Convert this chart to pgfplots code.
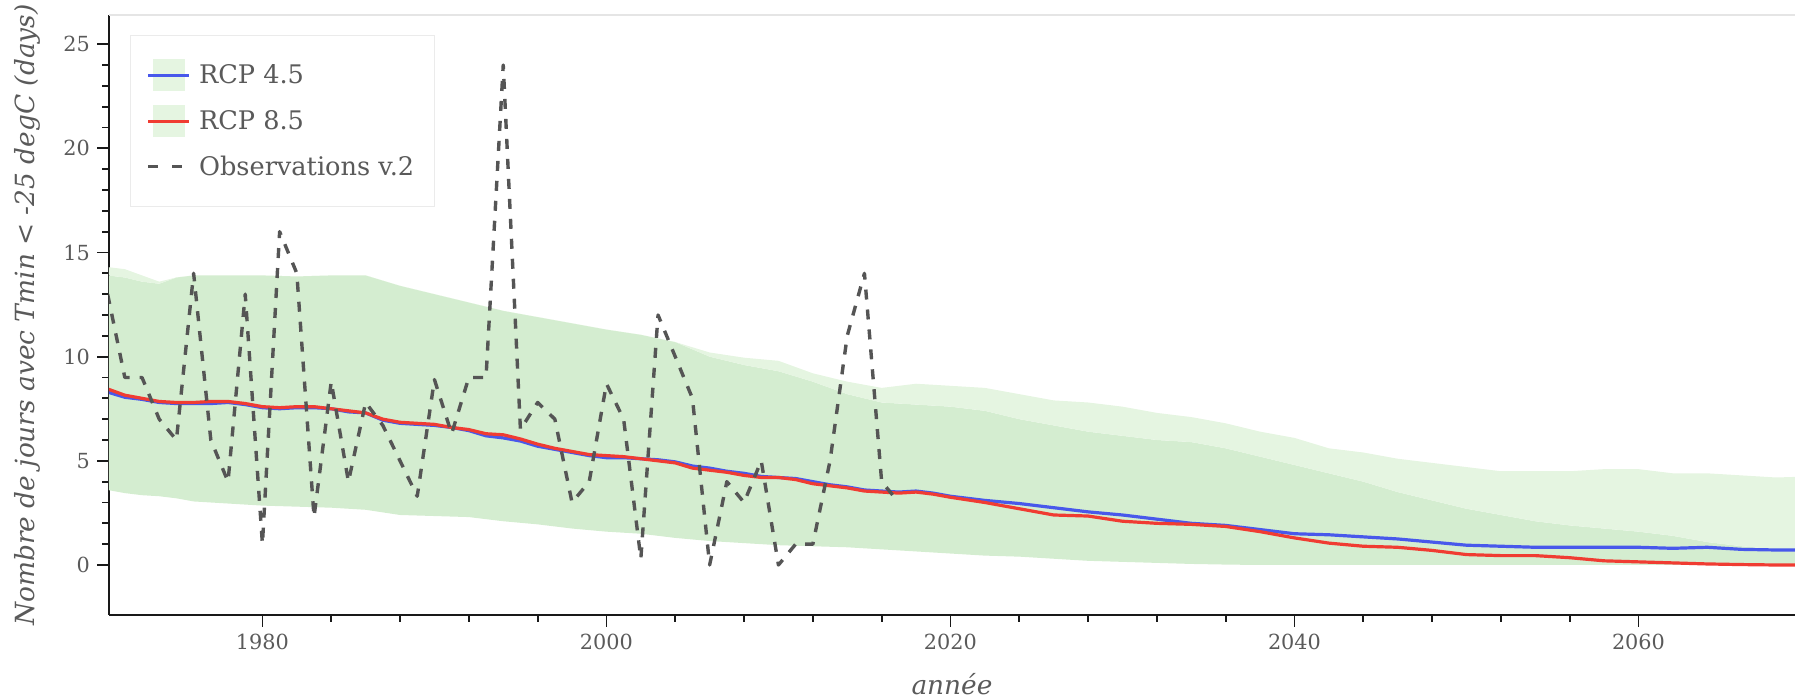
\documentclass[border=0pt]{standalone}
\usepackage{pgfplots}
\pgfplotsset{compat=1.18}
\usepackage{pgfplotstable}
\usepackage{fontspec}
\setmainfont{DejaVu Serif}
\definecolor{bandA}{RGB}{229,245,225}
\definecolor{bandB}{RGB}{212,237,208}
\definecolor{rcpblue}{RGB}{72,88,235}
\definecolor{rcpred}{RGB}{240,60,50}
\definecolor{obsgray}{RGB}{85,85,85}
\definecolor{txtgray}{RGB}{90,90,90}

\pgfplotstableread{
year u45 u85 lo
1971 14.3 13.9 3.6
1972 14.2 13.8 3.45
1973 13.9 13.6 3.35
1974 13.6 13.5 3.3
1975 13.8 13.8 3.2
1976 13.9 13.9 3.05
1978 13.9 13.9 2.95
1980 13.9 13.9 2.85
1982 13.85 13.85 2.8
1984 13.9 13.9 2.75
1986 13.9 13.9 2.65
1988 13.4 13.4 2.4
1990 13.0 13.0 2.35
1992 12.6 12.6 2.3
1994 12.2 12.2 2.1
1996 11.9 11.9 1.95
1998 11.6 11.6 1.75
2000 11.3 11.3 1.6
2002 11.05 11.05 1.5
2004 10.7 10.7 1.3
2006 10.2 10.0 1.15
2008 9.95 9.6 1.05
2010 9.8 9.3 0.95
2012 9.2 8.8 0.9
2014 8.8 8.2 0.85
2016 8.5 7.8 0.75
2018 8.7 7.7 0.65
2020 8.6 7.6 0.55
2022 8.5 7.4 0.45
2024 8.2 7.0 0.4
2026 7.9 6.7 0.3
2028 7.8 6.4 0.2
2030 7.6 6.2 0.15
2032 7.3 6.0 0.1
2034 7.1 5.9 0.05
2036 6.8 5.6 0.02
2038 6.4 5.2 0
2040 6.1 4.8 0
2042 5.6 4.4 0
2044 5.4 4.0 0
2046 5.1 3.5 0
2048 4.9 3.1 0
2050 4.7 2.7 0
2052 4.5 2.4 0
2054 4.5 2.1 0
2056 4.5 1.9 0
2058 4.6 1.75 0
2060 4.6 1.6 0
2062 4.4 1.4 0
2064 4.4 1.1 0
2066 4.3 0.9 0
2068 4.2 0.75 0
2070 4.25 0.65 0
}\bands

\pgfplotstableread{
year b45 r85
1971 8.3 8.45
1972 8.05 8.15
1973 7.95 8.0
1974 7.8 7.85
1975 7.75 7.8
1976 7.75 7.8
1977 7.75 7.85
1978 7.8 7.85
1979 7.7 7.75
1980 7.55 7.6
1981 7.5 7.55
1982 7.55 7.6
1983 7.55 7.6
1984 7.5 7.5
1985 7.35 7.4
1986 7.3 7.3
1987 6.95 7.0
1988 6.8 6.85
1989 6.75 6.8
1990 6.7 6.75
1991 6.6 6.6
1992 6.45 6.5
1993 6.2 6.3
1994 6.1 6.25
1995 5.95 6.05
1996 5.7 5.8
1997 5.55 5.6
1998 5.4 5.45
1999 5.25 5.3
2000 5.15 5.25
2001 5.15 5.2
2002 5.1 5.1
2003 5.05 5.0
2004 4.95 4.9
2005 4.75 4.65
2006 4.65 4.55
2007 4.5 4.45
2008 4.4 4.3
2009 4.25 4.2
2010 4.2 4.2
2011 4.15 4.1
2012 4.0 3.9
2013 3.85 3.8
2014 3.75 3.7
2015 3.6 3.55
2016 3.55 3.5
2017 3.5 3.45
2018 3.55 3.5
2019 3.45 3.4
2020 3.3 3.25
2022 3.1 3.0
2024 2.95 2.7
2026 2.75 2.4
2028 2.55 2.35
2030 2.4 2.1
2032 2.2 2.0
2034 2.0 1.95
2036 1.9 1.85
2038 1.7 1.6
2040 1.5 1.3
2042 1.45 1.05
2044 1.35 0.9
2046 1.25 0.85
2048 1.1 0.7
2050 0.95 0.5
2052 0.9 0.45
2054 0.85 0.45
2056 0.85 0.35
2058 0.85 0.2
2060 0.85 0.15
2062 0.8 0.1
2064 0.85 0.05
2066 0.75 0.02
2068 0.72 0.0
2070 0.72 0.0
}\means

\pgfplotstableread{
year obs
1971 13
1972 9
1973 9
1974 7
1975 6
1976 14
1977 6
1978 4
1979 13
1980 1
1981 16
1982 14
1983 2.3
1984 8.8
1985 4
1986 7.8
1987 6.7
1988 5
1989 3.3
1990 8.9
1991 6.3
1992 9
1993 9
1994 24
1995 6.5
1996 7.8
1997 7
1998 3
1999 4
2000 8.7
2001 7
2002 0.3
2003 12
2004 10
2005 8
2006 0
2007 4
2008 3
2009 5
2010 0
2011 1
2012 1
2013 5
2014 11
2015 14
2016 4
2017 3
}\obs

\begin{document}
\begin{tikzpicture}
\path[use as bounding box] (-54.5pt,-42pt) rectangle (843pt,307.5pt);
\begin{axis}[
  at={(0,0)}, anchor=south west,
  scale only axis, width=843pt, height=300pt,
  xmin=1971.08, xmax=2069.1, ymin=-2.4, ymax=26.4,
  axis x line*=bottom, axis y line*=left,
  axis line style={black!90, line width=1.1pt, -},
  xtick={1980,2000,2020,2040,2060}, ytick={0,5,...,25},
  minor x tick num=4, minor y tick num=4,
  tick align=outside,
  major tick length=6pt, minor tick length=3.5pt,
  tick style={black!90, line width=0.9pt},
  every tick label/.append style={font=\fontsize{10.4}{12}\selectfont, text=txtgray},
  /pgf/number format/assume math mode=true,
  /pgf/number format/1000 sep={},
  xlabel={\itshape année},
  ylabel={\itshape Nombre de jours avec Tmin < -25 degC (days)},
  label style={font=\fontsize{13.2}{15}\selectfont, text=txtgray},
  xlabel style={at={(axis description cs:0.5,0)}, anchor=base, yshift=-40pt},
  ylabel style={at={(axis description cs:-0.0486,0.5)}, anchor=center},
  legend style={at={(axis description cs:0,1)}, anchor=north west, xshift=10.5pt, yshift=-10pt,
    draw=black!8, fill=white, font=\fontsize{12.8}{15}\selectfont, text=txtgray,
    row sep=7.2pt, inner xsep=8pt, inner ysep=12pt},
  legend cell align=left,
]
\addplot[draw=none, stack plots=y, forget plot] table[x=year, y=lo] {\bands};
\addplot[draw=none, fill=bandB, stack plots=y, forget plot] table[x=year, y expr=\thisrow{u85}-\thisrow{lo}] {\bands} \closedcycle;
\addplot[draw=none, fill=bandA, stack plots=y, forget plot] table[x=year, y expr=\thisrow{u45}-\thisrow{u85}] {\bands} \closedcycle;

\addplot[rcpblue, line width=1.6pt, line join=round, forget plot] table[x=year, y=b45] {\means};
\addplot[rcpred, line width=1.6pt, line join=round, forget plot] table[x=year, y=r85] {\means};
\addplot[obsgray, line width=1.7pt, line join=round, dash pattern=on 5pt off 5pt, forget plot] table[x=year, y=obs] {\obs};

\draw[black!10, line width=1pt] (rel axis cs:0,1) -- (rel axis cs:1,1);

\addlegendimage{legend image code/.code={
  \path[draw=none, fill=none] (0pt,-7.7pt) rectangle (23.5pt,7.7pt);
  \fill[bandA] (2.5pt,-7.7pt) rectangle (18pt,7.7pt);
  \draw[rcpblue, line width=1.6pt] (0pt,0pt) -- (20.5pt,0pt);}}
\addlegendentry{RCP 4.5}
\addlegendimage{legend image code/.code={
  \path[draw=none, fill=none] (0pt,-7.7pt) rectangle (23.5pt,7.7pt);
  \fill[bandA] (2.5pt,-7.7pt) rectangle (18pt,7.7pt);
  \draw[rcpred, line width=1.6pt] (0pt,0pt) -- (20.5pt,0pt);}}
\addlegendentry{RCP 8.5}
\addlegendimage{legend image code/.code={
  \path[draw=none, fill=none] (0pt,-7.7pt) rectangle (23.5pt,7.7pt);
  \draw[obsgray, line width=1.7pt, dash pattern=on 5pt off 7pt] (0pt,0pt) -- (20.5pt,0pt);}}
\addlegendentry{Observations v.2}
\end{axis}
\end{tikzpicture}
\end{document}
